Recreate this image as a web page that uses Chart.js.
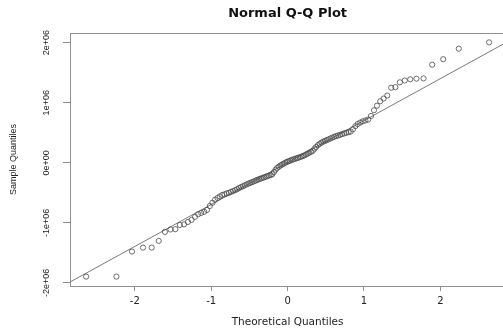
<!DOCTYPE html>
<html>
<head>
<meta charset="utf-8">
<script src="https://cdn.jsdelivr.net/npm/chart.js@4/dist/chart.umd.min.js"></script>
<style>
  html, body { margin: 0; padding: 0; background: #ffffff; overflow: hidden; width: 503px; height: 329px; }
  #wrap { position: absolute; left: 0; top: 0; width: 510px; height: 329px; }
</style>
</head>
<body>
<div id="wrap"><canvas id="c" width="510" height="329"></canvas></div>
<script>
const chartTitle = 'Normal Q-Q Plot';
const xAxisTitle = 'Theoretical Quantiles';
const yAxisTitle = 'Sample Quantiles';

const theoreticalQuantiles = [
  -2.638, -2.241, -2.037, -1.893, -1.780, -1.687, -1.606, -1.534, -1.470, -1.411,
  -1.356, -1.305, -1.257, -1.213, -1.170, -1.131, -1.092, -1.055, -1.019, -0.984,
  -0.951, -0.918, -0.887, -0.856, -0.827, -0.798, -0.769, -0.742, -0.714, -0.687,
  -0.661, -0.636, -0.610, -0.585, -0.561, -0.536, -0.512, -0.489, -0.466, -0.442,
  -0.419, -0.397, -0.374, -0.352, -0.330, -0.308, -0.286, -0.264, -0.243, -0.221,
  -0.200, -0.179, -0.157, -0.136, -0.115, -0.094, -0.073, -0.052, -0.031, -0.010,
  0.010, 0.031, 0.052, 0.073, 0.094, 0.115, 0.136, 0.157, 0.179, 0.200,
  0.221, 0.243, 0.264, 0.286, 0.308, 0.330, 0.352, 0.374, 0.397, 0.419,
  0.442, 0.466, 0.489, 0.512, 0.536, 0.561, 0.585, 0.610, 0.636, 0.661,
  0.687, 0.714, 0.742, 0.769, 0.798, 0.827, 0.856, 0.887, 0.918, 0.951,
  0.984, 1.019, 1.055, 1.092, 1.131, 1.170, 1.213, 1.257, 1.305, 1.356,
  1.411, 1.470, 1.534, 1.606, 1.687, 1.780, 1.893, 2.037, 2.241, 2.638
];

const sampleQuantiles = [
  -1895000, -1895000, -1478000, -1412000, -1412000, -1300000, -1150000, -1110000, -1105000, -1035000,
  -1025000, -985000, -950000, -900000, -855000, -835000, -815000, -785000, -720000, -665000,
  -615000, -585000, -560000, -535000, -525000, -510000, -500000, -485000, -470000, -455000,
  -440000, -420000, -405000, -390000, -375000, -360000, -345000, -335000, -322000, -310000,
  -297000, -285000, -273000, -263000, -252000, -243000, -232000, -222000, -212000, -203000,
  -190000, -155000, -115000, -85000, -65000, -45000, -30000, -15000, 0, 15000,
  25000, 35000, 48000, 56000, 65000, 75000, 83000, 93000, 103000, 112000,
  125000, 140000, 155000, 170000, 185000, 200000, 235000, 265000, 295000, 315000,
  335000, 352000, 365000, 378000, 390000, 405000, 420000, 433000, 445000, 455000,
  465000, 478000, 490000, 500000, 510000, 520000, 560000, 610000, 645000, 670000,
  690000, 705000, 720000, 780000, 875000, 950000, 1025000, 1070000, 1120000, 1250000,
  1260000, 1340000, 1370000, 1390000, 1400000, 1405000, 1633000, 1725000, 1900000, 2005000
];

const qqLineX = [-2.849, 2.849];
const qqLineY = [-1985000, 1994000];

const xTickValues = [-2, -1, 0, 1, 2];
const xTickLabels = ['-2', '-1', '0', '1', '2'];
const yTickValues = [-2000000, -1000000, 0, 1000000, 2000000];
const yTickLabels = ['-2e+06', '-1e+06', '0e+00', '1e+06', '2e+06'];

const xRange = [-2.849, 2.849];
const yRange = [-2051000, 2161000];

const pointsData = theoreticalQuantiles.map((x, i) => ({ x: x, y: sampleQuantiles[i] }));
const lineData = qqLineX.map((x, i) => ({ x: x, y: qqLineY[i] }));

const axisColor = '#8f8f8f';
const sideFont = "'Liberation Sans', Arial, sans-serif";

const boxPlugin = {
  id: 'plotBox',
  beforeDatasetsDraw(chart) {
    const a = chart.chartArea;
    const ctx = chart.ctx;
    ctx.save();
    ctx.strokeStyle = axisColor;
    ctx.lineWidth = 1;
    ctx.strokeRect(Math.round(a.left) + 0.5, Math.round(a.top) + 0.5,
                   Math.round(a.right - a.left), Math.round(a.bottom - a.top));
    ctx.restore();
  }
};

new Chart(document.getElementById('c'), {
  type: 'scatter',
  data: {
    datasets: [
      {
        label: 'qqline',
        data: lineData,
        showLine: true,
        borderColor: '#7a7a7a',
        borderWidth: 1,
        pointRadius: 0,
        fill: false,
        order: 2
      },
      {
        label: 'sample',
        data: pointsData,
        showLine: false,
        pointStyle: 'circle',
        pointRadius: 2.6,
        pointBorderWidth: 0.8,
        pointBorderColor: '#4a4a4a',
        pointBackgroundColor: 'rgba(0,0,0,0)',
        order: 1
      }
    ]
  },
  options: {
    responsive: false,
    animation: false,
    devicePixelRatio: 1,
    layout: { padding: { top: 0, left: 0, right: 4, bottom: 0 } },
    plugins: {
      legend: { display: false },
      tooltip: { enabled: false },
      title: {
        display: true,
        fullSize: false,
        text: chartTitle,
        color: '#111',
        font: { family: "'DejaVu Sans', sans-serif", size: 13, weight: 'bold', lineHeight: 1.2 },
        padding: { top: 6.2, bottom: 11.2 }
      }
    },
    scales: {
      x: {
        type: 'linear',
        position: 'bottom',
        min: xRange[0],
        max: xRange[1],
        afterFit(scale) { scale.height = 43; },
        afterBuildTicks(scale) { scale.ticks = xTickValues.map(v => ({ value: v })); },
        ticks: {
          includeBounds: false,
          autoSkip: false,
          maxRotation: 0,
          minRotation: 0,
          padding: 4,
          color: '#222',
          font: { family: "'DejaVu Sans', sans-serif", size: 10 },
          callback(value) { const k = xTickValues.indexOf(value); return k >= 0 ? xTickLabels[k] : ''; }
        },
        grid: { drawOnChartArea: false, drawTicks: true, tickLength: 5, color: axisColor, tickColor: axisColor },
        border: { display: false },
        title: {
          display: true,
          text: xAxisTitle,
          color: '#222',
          font: { family: "'DejaVu Sans', sans-serif", size: 10.5, lineHeight: 1.2 },
          padding: { top: 0, bottom: 0 }
        }
      },
      y: {
        type: 'linear',
        position: 'left',
        min: yRange[0],
        max: yRange[1],
        afterFit(scale) { scale.width = 70; },
        afterBuildTicks(scale) { scale.ticks = yTickValues.map(v => ({ value: v })); },
        ticks: {
          includeBounds: false,
          autoSkip: false,
          minRotation: 90,
          maxRotation: 90,
          crossAlign: 'center',
          padding: 2.5,
          color: '#222',
          font: { family: sideFont, size: 9 },
          callback(value) { const k = yTickValues.indexOf(value); return k >= 0 ? yTickLabels[k] : ''; }
        },
        grid: { drawOnChartArea: false, drawTicks: true, tickLength: 7, color: axisColor, tickColor: axisColor },
        border: { display: false },
        title: {
          display: true,
          text: yAxisTitle,
          color: '#222',
          font: { family: sideFont, size: 9, lineHeight: 1.2 },
          padding: { top: 8.6, bottom: 0 }
        }
      }
    }
  },
  plugins: [boxPlugin]
});
</script>
</body>
</html>
